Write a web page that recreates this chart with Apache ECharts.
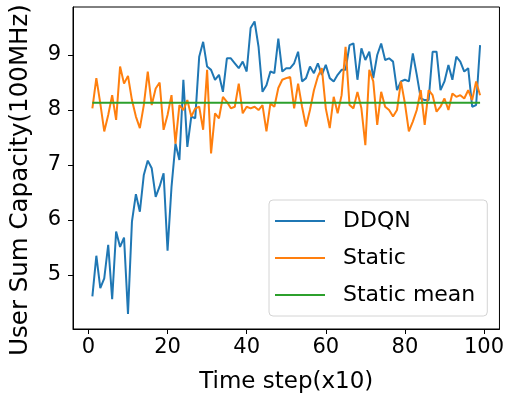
<!DOCTYPE html>
<html>
<head>
<meta charset="utf-8">
<script src="https://cdn.jsdelivr.net/npm/echarts@6/dist/echarts.min.js"></script>
<style>
html,body{margin:0;padding:0;background:#fff;}
#chart{width:507px;height:404px;}
</style>
</head>
<body>
<div id="chart"></div>
<script>
// ---- data ----
const seriesNames = ['DDQN', 'Static', 'Static mean'];
const ddqn = [4.61,5.35,4.76,4.94,5.55,4.56,5.79,5.51,5.68,4.29,
  5.97,6.47,6.15,6.82,7.08,6.94,6.42,6.61,6.85,5.44,
  6.60,7.39,7.09,8.55,7.33,7.88,7.85,8.97,9.24,8.79,
  8.73,8.55,8.64,8.33,8.94,8.94,8.85,8.76,8.88,8.70,
  9.49,9.61,9.15,8.33,8.45,8.70,8.67,9.30,8.70,8.76,
  8.76,8.85,9.06,8.52,8.58,8.79,8.67,8.85,8.64,8.82,
  8.58,8.52,8.64,8.73,8.73,9.18,9.21,8.55,9.12,8.91,
  9.06,8.58,9.00,9.21,8.91,8.94,8.88,8.36,8.52,8.55,
  8.52,9.03,8.64,8.21,8.18,8.18,9.06,9.06,8.36,8.52,
  8.82,8.55,8.97,8.88,8.70,8.76,8.06,8.09,9.18];
const staticVals = [8.03,8.58,8.12,7.61,7.91,8.27,7.82,8.79,8.48,8.62,
  8.18,7.88,7.67,8.09,8.70,8.09,8.39,8.50,7.64,7.91,
  8.27,7.39,8.09,8.00,8.18,7.88,8.03,8.06,7.64,8.73,
  7.21,7.94,7.85,8.24,8.15,8.03,8.06,8.48,7.94,8.06,
  8.03,8.06,8.00,8.09,7.61,8.12,8.06,8.40,8.55,8.58,
  8.60,8.03,8.48,8.06,7.70,8.00,8.36,8.61,8.76,8.03,
  7.67,8.24,7.94,8.27,9.15,8.09,8.03,8.33,8.03,7.36,
  8.73,8.52,7.73,8.33,8.06,8.00,7.88,8.00,8.52,8.12,
  7.61,7.79,8.00,8.36,7.73,8.36,8.27,7.97,8.06,8.21,
  8.00,8.30,8.24,8.27,8.21,8.36,8.18,8.52,8.27];
const staticMean = 8.13;
const firstStep = 1;
const lastStep = 99;
const xTicks = [0, 20, 40, 60, 80, 100];
const yTicks = [5, 6, 7, 8, 9];
const xLabel = 'Time step(x10)';
const yLabel = 'User Sum Capacity(100MHz)';

// ---- build chart ----
const toPairs = arr => arr.map((v, i) => [firstStep + i, v]);
const font = 'DejaVu Sans';
const chart = echarts.init(document.getElementById('chart'), null, {renderer: 'canvas'});
chart.setOption({
  animation: false,
  backgroundColor: '#ffffff',
  textStyle: {fontFamily: font, color: '#000'},
  grid: {left: 71, right: 5, top: 7, bottom: 75, show: true, borderColor: '#000', borderWidth: 1, backgroundColor: 'transparent'},
  xAxis: {
    type: 'value', min: -3.9, max: 103.9,
    name: xLabel, nameLocation: 'middle', nameGap: 42,
    nameTextStyle: {fontFamily: font, fontSize: 23, color: '#000'},
    axisLine: {show: true, onZero: false, lineStyle: {color: '#000', width: 1}},
    axisTick: {show: true, inside: false, length: 5, lineStyle: {color: '#000', width: 1}, customValues: xTicks},
    axisLabel: {fontFamily: font, fontSize: 21, color: '#000', margin: 8, customValues: xTicks},
    splitLine: {show: false}
  },
  yAxis: {
    type: 'value', min: 4.018, max: 9.873,
    name: yLabel, nameLocation: 'middle', nameGap: 40,
    nameTextStyle: {fontFamily: font, fontSize: 24.5, color: '#000', padding: [0, 24, 0, 0]},
    axisLine: {show: true, onZero: false, lineStyle: {color: '#000', width: 1}},
    axisTick: {show: true, inside: false, length: 5, lineStyle: {color: '#000', width: 1}, customValues: yTicks},
    axisLabel: {fontFamily: font, fontSize: 21, color: '#000', margin: 12, customValues: yTicks},
    splitLine: {show: false}
  },
  legend: {
    orient: 'vertical', left: 269, top: 200,
    data: seriesNames,
    icon: 'rect',
    itemWidth: 50, itemHeight: 2, itemGap: 13,
    padding: [9, 12, 9, 6],
    backgroundColor: '#fff', borderColor: '#d4d4d4', borderWidth: 1, borderRadius: 4,
    textStyle: {fontFamily: font, fontSize: 22, color: '#000', lineHeight: 24, padding: [0, 0, 0, 13]}
  },
  series: [
    {name: seriesNames[0], type: 'line', data: toPairs(ddqn), symbol: 'none', showSymbol: false, lineStyle: {color: '#1f77b4', width: 2}, itemStyle: {color: '#1f77b4'}, z: 2},
    {name: seriesNames[1], type: 'line', data: toPairs(staticVals), symbol: 'none', showSymbol: false, lineStyle: {color: '#ff7f0e', width: 2}, itemStyle: {color: '#ff7f0e'}, z: 3},
    {name: seriesNames[2], type: 'line', data: [[firstStep, staticMean], [lastStep, staticMean]], symbol: 'none', showSymbol: false, lineStyle: {color: '#2ca02c', width: 2}, itemStyle: {color: '#2ca02c'}, z: 4}
  ]
});
</script>
</body>
</html>
